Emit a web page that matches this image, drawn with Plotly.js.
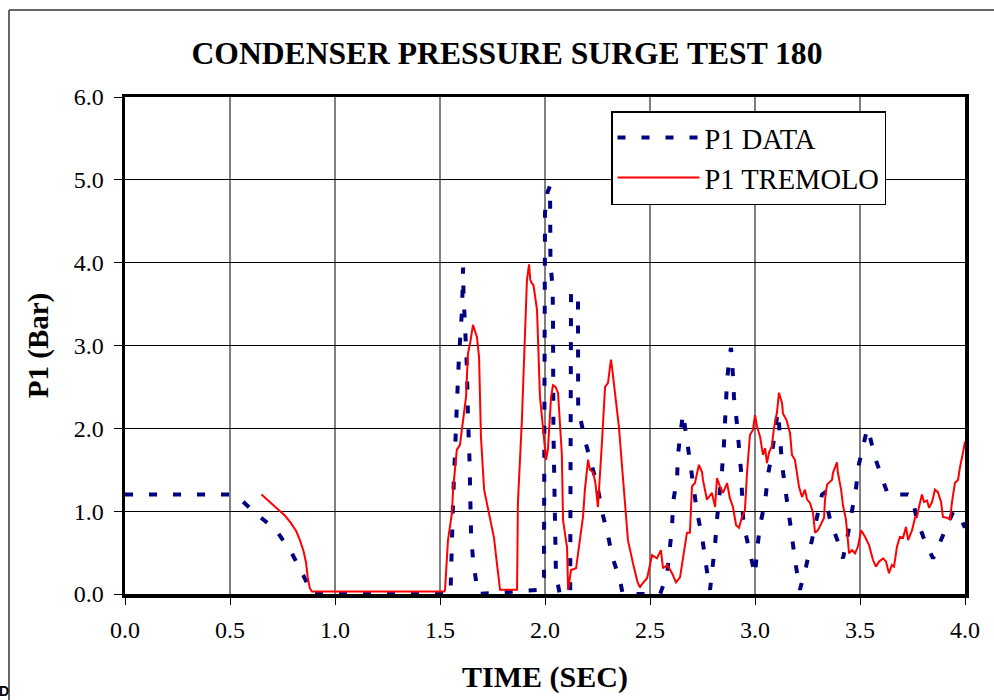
<!DOCTYPE html>
<html>
<head>
<meta charset="utf-8">
<script src="https://cdn.plot.ly/plotly-3.0.1.min.js"></script>
<style>
  html, body { margin: 0; padding: 0; background: #fff; }
  #chart { width: 994px; height: 700px; }
</style>
</head>
<body>
<div id="chart"></div>
<script>
// P1 DATA (measured) — time in seconds, pressure in bar
var dataTime = [0, 0.5, 0.56, 0.62, 0.72, 0.795, 0.85, 0.89, 1.55, 1.552, 1.562, 1.58, 1.59, 1.605, 1.61, 1.612, 1.618, 1.628, 1.633, 1.638, 1.641, 1.643, 1.646, 1.648, 1.657, 1.667, 1.68,
  1.976, 1.995, 2.0, 2.012, 2.024, 2.026, 2.036, 2.038, 2.04, 2.043, 2.046, 2.048, 2.052, 2.07,
  2.12, 2.124, 2.157, 2.158, 2.167, 2.19, 2.22, 2.25, 2.27, 2.30, 2.32, 2.357, 2.37,
  2.548, 2.581, 2.595, 2.605, 2.61, 2.629, 2.633, 2.648, 2.657, 2.676, 2.69, 2.705, 2.724, 2.748, 2.762, 2.776, 2.786,
  2.8, 2.81, 2.819, 2.833, 2.843, 2.852, 2.857, 2.862, 2.867, 2.881, 2.886, 2.895, 2.9, 2.914, 2.924, 2.933, 2.938, 2.943, 2.957, 2.981, 3.0,
  3.01, 3.024, 3.048, 3.062, 3.081, 3.095, 3.105, 3.11, 3.119, 3.129, 3.143, 3.162, 3.176, 3.19, 3.214,
  3.243, 3.267, 3.29, 3.319, 3.33, 3.357, 3.395, 3.419, 3.443, 3.462, 3.481, 3.495, 3.519, 3.533, 3.538, 3.571, 3.605, 3.633, 3.729, 3.748, 3.771, 3.81, 3.848, 3.89, 3.943, 3.967, 4.0];
var dataP1 = [1.2, 1.2, 1.12, 0.98, 0.77, 0.49, 0.22, 0, 0, 0.23, 1.11, 2.26, 2.85, 3.43, 3.94, 3.63, 3.35, 2.74, 2.16, 1.88, 1.58, 1.32, 1.01, 0.71, 0.43, 0.2, 0,
  0.05, 0.2, 4.6, 4.85, 4.93, 4.0, 3.7, 3.4, 2.0, 1.41, 0.83, 0.56, 0.25, 0,
  0, 3.63, 3.63, 2.18, 2.14, 1.86, 1.58, 1.3, 1.01, 0.71, 0.45, 0.17, 0,
  0, 0.23, 0.53, 0.81, 1.11, 1.4, 1.68, 1.98, 2.18, 1.86, 1.58, 1.3, 0.99, 0.69, 0.41, 0.19, 0.05,
  0.33, 0.6, 0.9, 1.2, 1.5, 1.8, 2.08, 2.37, 2.58, 2.92, 2.97, 2.64, 2.37, 2.06, 1.78, 1.5, 1.22, 0.92, 0.71, 0.41, 0.23,
  0.53, 0.83, 1.11, 1.44, 1.7, 2.0, 2.14, 2.2, 1.88, 1.56, 1.29, 0.98, 0.7, 0.41, 0.05,
  0.33, 0.6, 0.9, 1.2, 1.22, 0.9, 0.63, 0.43, 0.73, 1.0, 1.28, 1.57, 1.85, 1.98, 2.0, 1.65, 1.4, 1.2, 1.2, 1.17, 0.9, 0.63, 0.43, 0.69, 0.99, 0.98, 0.8];

// P1 TREMOLO (simulation)
var tremoloTime = [0.650, 0.690, 0.720, 0.760, 0.786, 0.815, 0.833, 0.850, 0.862, 0.870, 0.880, 0.890, 1.520, 1.524, 1.538, 1.557, 1.562, 1.580, 1.595, 1.610, 1.624, 1.633, 1.645, 1.657, 1.676, 1.686, 1.695, 1.710, 1.729, 1.757, 1.771, 1.786,
  1.867, 1.871, 1.890, 1.905, 1.914, 1.924, 1.930, 1.938, 1.945, 1.962, 1.976, 1.990, 2.005, 2.014, 2.029, 2.038, 2.050, 2.062, 2.080, 2.086, 2.105, 2.110,
  2.124, 2.148, 2.167, 2.181, 2.190, 2.205, 2.214, 2.229, 2.240, 2.252, 2.271, 2.286, 2.300, 2.314, 2.319, 2.333, 2.352, 2.365, 2.380, 2.395, 2.419, 2.440, 2.452, 2.462, 2.486,
  2.510, 2.533, 2.552, 2.562, 2.583, 2.605, 2.624, 2.643, 2.657, 2.676, 2.690, 2.700, 2.714, 2.733, 2.748, 2.752, 2.771, 2.795, 2.810, 2.819, 2.833, 2.848, 2.867, 2.880, 2.895,
  2.910, 2.924, 2.938, 2.952, 2.962, 2.976, 2.990, 3.000, 3.010, 3.024, 3.038, 3.048, 3.057, 3.067, 3.080, 3.090, 3.105, 3.114, 3.129, 3.133, 3.150, 3.167, 3.176, 3.190, 3.200,
  3.210, 3.224, 3.238, 3.248, 3.262, 3.276, 3.286, 3.300, 3.319, 3.329, 3.333, 3.343, 3.367, 3.371, 3.390, 3.395, 3.410, 3.419, 3.433, 3.448, 3.462, 3.476, 3.490, 3.505, 3.524,
  3.543, 3.562, 3.576, 3.590, 3.610, 3.624, 3.638, 3.652, 3.662, 3.676, 3.690, 3.705, 3.719, 3.729, 3.748, 3.762, 3.771, 3.781, 3.795, 3.805, 3.819, 3.829, 3.843, 3.857, 3.871,
  3.886, 3.895, 3.914, 3.929, 3.938, 3.952, 3.967, 3.976, 3.990, 4.000];
var tremoloP1 = [1.20, 1.11, 1.04, 0.95, 0.87, 0.76, 0.65, 0.52, 0.38, 0.20, 0.07, 0.03, 0.03, 0.05, 0.65, 0.98, 1.25, 1.74, 1.80, 2.07, 2.38, 2.90, 3.05, 3.25, 3.10, 2.86, 1.90, 1.26, 1.01, 0.68, 0.37, 0.05,
  0.05, 1.10, 2.10, 3.15, 3.79, 3.98, 3.79, 3.75, 3.73, 3.43, 2.38, 2.02, 1.62, 1.75, 2.38, 2.52, 2.50, 2.43, 1.70, 0.89, 0.56, 0.05,
  0.29, 0.31, 0.65, 0.93, 1.26, 1.62, 1.50, 1.47, 1.34, 1.05, 1.82, 2.50, 2.55, 2.83, 2.74, 2.46, 2.02, 1.60, 1.10, 0.65, 0.37, 0.15, 0.08, 0.12, 0.19,
  0.47, 0.43, 0.53, 0.31, 0.35, 0.25, 0.14, 0.20, 0.41, 0.74, 0.74, 1.30, 1.34, 1.56, 1.47, 1.38, 1.14, 1.22, 1.05, 1.40, 1.30, 1.22, 1.34, 1.16, 1.05,
  0.83, 0.80, 0.93, 1.01, 1.46, 1.92, 1.98, 2.16, 2.02, 1.90, 1.68, 1.76, 1.58, 1.71, 1.78, 2.00, 2.20, 2.43, 2.30, 2.18, 2.10, 1.94, 1.68, 1.62, 1.46,
  1.29, 1.17, 1.26, 1.14, 1.10, 0.98, 0.74, 0.77, 0.86, 0.92, 1.13, 1.32, 1.38, 1.46, 1.59, 1.46, 1.26, 1.07, 0.90, 0.49, 0.53, 0.49, 0.57, 0.77, 0.69,
  0.59, 0.41, 0.33, 0.39, 0.43, 0.39, 0.25, 0.35, 0.33, 0.57, 0.69, 0.68, 0.81, 0.65, 0.77, 0.92, 0.93, 1.05, 1.20, 1.11, 1.13, 1.04, 1.11, 1.26, 1.23,
  1.11, 0.93, 0.92, 0.90, 1.11, 1.34, 1.38, 1.53, 1.70, 1.84];

var seriesNames = ['P1 DATA', 'P1 TREMOLO'];
var titleText = 'CONDENSER PRESSURE SURGE TEST 180';
var xTitle = 'TIME (SEC)';
var yTitle = 'P1 (Bar)';

var serif = '"Liberation Serif", "Times New Roman", Times, serif';

var traces = [
  {
    x: dataTime, y: dataP1, name: seriesNames[0], type: 'scatter', mode: 'lines',
    line: { color: '#000080', width: 4, dash: '8px,16px' }
  },
  {
    x: tremoloTime, y: tremoloP1, name: seriesNames[1], type: 'scatter', mode: 'lines',
    line: { color: '#FF0000', width: 2 }
  }
];

var L = 125, R = 965, T = 97, B = 594;
function px2x(p) { return (p - L) / (R - L); }
function px2y(p) { return (B - p) / (B - T); }

var layout = {
  width: 994, height: 700,
  margin: { l: L, r: 994 - R, t: T, b: 700 - B },
  paper_bgcolor: '#ffffff', plot_bgcolor: '#ffffff',
  showlegend: true,
  title: {
    text: titleText,
    font: { family: serif, size: 31.6, color: '#000', weight: 'bold' },
    x: 507 / 994, xref: 'container', xanchor: 'center',
    y: 1 - 53 / 700, yref: 'container', yanchor: 'middle'
  },
  xaxis: {
    range: [0, 4], dtick: 0.5, tick0: 0, tickformat: '.1f',
    showgrid: true, gridcolor: '#808080', gridwidth: 1.5,
    showline: true, linecolor: '#000', linewidth: 3.5, mirror: true,
    ticks: 'outside', ticklen: 7, tickcolor: '#000', tickwidth: 1,
    zeroline: false, layer: 'below traces',
    ticklabelstandoff: 5,
    tickfont: { family: serif, size: 24, color: '#000' },
    title: { text: xTitle, font: { family: serif, size: 30, color: '#000', weight: 'bold' }, standoff: 24 }
  },
  yaxis: {
    range: [0, 6], dtick: 1, tick0: 0, tickformat: '.1f',
    showgrid: true, gridcolor: '#000000', gridwidth: 1,
    showline: true, linecolor: '#000', linewidth: 3.5, mirror: true,
    ticks: 'outside', ticklen: 8, tickcolor: '#000', tickwidth: 1,
    zeroline: false, layer: 'below traces',
    ticklabelstandoff: 5,
    tickfont: { family: serif, size: 24, color: '#000' },
    title: { text: yTitle, font: { family: serif, size: 29, color: '#000', weight: 'bold' }, standoff: 17 }
  },
  legend: {
    x: px2x(611), y: px2y(111), xanchor: 'left', yanchor: 'top',
    bgcolor: '#ffffff', bordercolor: '#000', borderwidth: 1.5,
    font: { family: serif, size: 28.5, color: '#000' },
    itemwidth: 82
  },
  shapes: [
    { type: 'line', xref: 'paper', yref: 'paper', x0: px2x(9), x1: px2x(9), y0: px2y(10), y1: px2y(700), line: { color: '#333', width: 1.5 } },
    { type: 'line', xref: 'paper', yref: 'paper', x0: px2x(9), x1: px2x(994), y0: px2y(10), y1: px2y(10), line: { color: '#333', width: 1.5 } }
  ],
  annotations: [
    { text: '<b>D</b>', xref: 'paper', yref: 'paper', x: px2x(-2), y: px2y(700), xanchor: 'left', yanchor: 'bottom',
      showarrow: false, borderpad: 0, font: { family: 'Liberation Sans, Arial, sans-serif', size: 14, color: '#000' } }
  ]
};

Plotly.newPlot('chart', traces, layout, { displayModeBar: false, staticPlot: true });
</script>
</body>
</html>
